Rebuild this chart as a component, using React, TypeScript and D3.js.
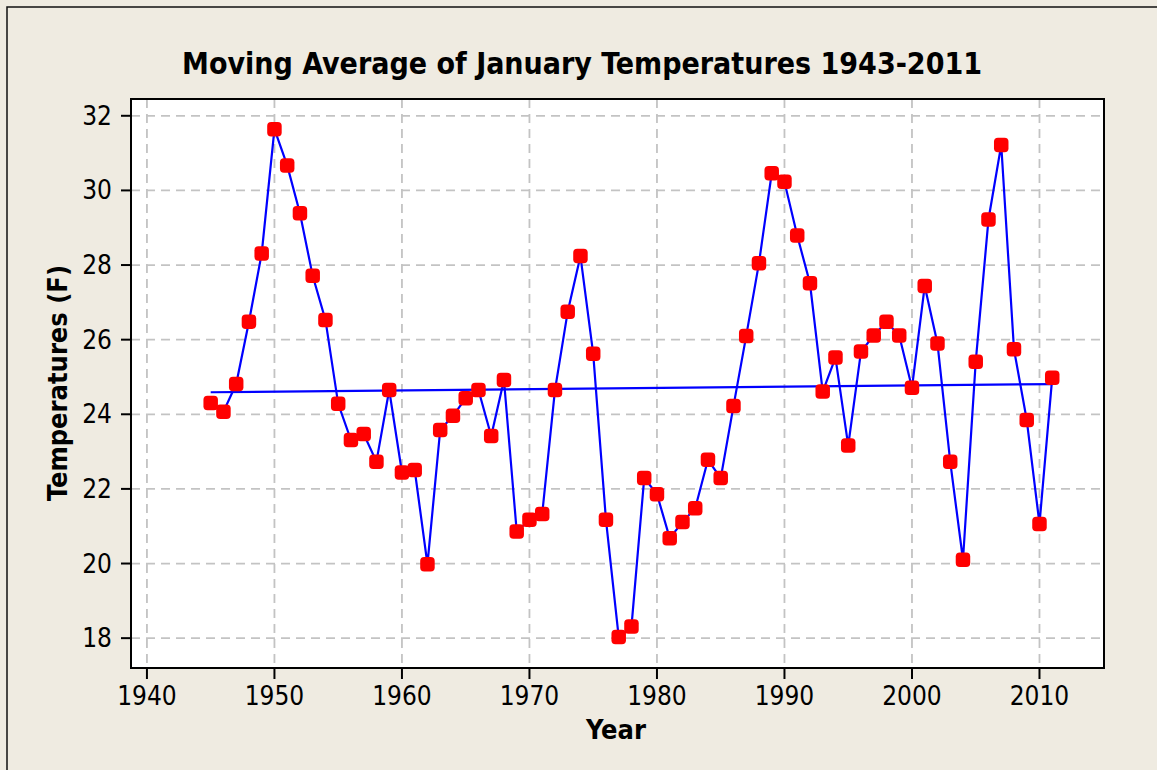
import { scaleLinear, line } from "d3";

const YEARS = [
  1945, 1946, 1947, 1948, 1949, 1950, 1951, 1952, 1953, 1954, 1955, 1956, 1957, 1958, 1959,
  1960, 1961, 1962, 1963, 1964, 1965, 1966, 1967, 1968, 1969, 1970, 1971, 1972, 1973, 1974,
  1975, 1976, 1977, 1978, 1979, 1980, 1981, 1982, 1983, 1984, 1985, 1986, 1987, 1988, 1989,
  1990, 1991, 1992, 1993, 1994, 1995, 1996, 1997, 1998, 1999, 2000, 2001, 2002, 2003, 2004,
  2005, 2006, 2007, 2008, 2009, 2010, 2011,
];

const TEMPS = [
  24.3, 24.07, 24.81, 26.48, 28.31, 31.64, 30.67, 29.39, 27.71, 26.53, 24.28, 23.31, 23.47, 22.73, 24.65,
  22.44, 22.51, 19.98, 23.58, 23.96, 24.43, 24.65, 23.42, 24.92, 20.86, 21.17, 21.33, 24.65, 26.75, 28.24,
  25.62, 21.17, 18.03, 18.31, 22.29, 21.86, 20.68, 21.11, 21.48, 22.78, 22.29, 24.22, 26.1, 28.05, 30.46,
  30.23, 28.79, 27.51, 24.61, 25.52, 23.16, 25.68, 26.11, 26.48, 26.11, 24.71, 27.44, 25.9, 22.73, 20.1,
  25.41, 29.22, 31.22, 25.74, 23.85, 21.06, 24.98,
];

// fitted trend, first and last year
const TREND_YEARS = [1945, 2011];
const TREND_VALUES = [24.59, 24.81];

const X_TICKS = [1940, 1950, 1960, 1970, 1980, 1990, 2000, 2010];
const Y_TICKS = [18, 20, 22, 24, 26, 28, 30, 32];

const TITLE = "Moving Average of January Temperatures 1943-2011";
const FONT = "'DejaVu Sans Condensed', 'Liberation Sans', sans-serif";

export default function App() {
  const width = 1157;
  const height = 770;
  const left = 131;
  const right = 1104;
  const top = 99;
  const bottom = 668;

  const x = scaleLinear().domain([1938.75, 2015.06]).range([left, right]);
  const y = scaleLinear().domain([17.2, 32.45]).range([bottom, top]);

  const points = YEARS.map((yr, i) => ({ yr, v: TEMPS[i] }));
  const path = line<{ yr: number; v: number }>()
    .x((d) => x(d.yr))
    .y((d) => y(d.v))(points);
  const trend = line<number>()
    .x((d, i) => x(TREND_YEARS[i]))
    .y((d) => y(d))(TREND_VALUES);

  const m = 14.5;

  return (
    <svg
      width={width}
      height={height}
      style={{ position: "absolute", left: 0, top: 0, fontFamily: FONT }}
    >
      <rect x={0} y={0} width={width} height={height} fill="#efebe1" />
      <rect x={7} y={7} width={width + 10} height={height + 10} fill="#efebe1" stroke="#111" strokeWidth={1.5} />

      <text x={582} y={74} textAnchor="middle" fontSize={30} fontWeight="bold" fill="#000">
        {TITLE}
      </text>

      <rect x={left} y={top} width={right - left} height={bottom - top} fill="#fff" />

      {X_TICKS.map((t) => (
        <line key={`gx${t}`} x1={x(t)} x2={x(t)} y1={top} y2={bottom} stroke="#c3c3c3" strokeWidth={1.8} strokeDasharray="9,6" />
      ))}
      {Y_TICKS.map((t) => (
        <line key={`gy${t}`} x1={left} x2={right} y1={y(t)} y2={y(t)} stroke="#c3c3c3" strokeWidth={1.8} strokeDasharray="9,6" />
      ))}

      <path d={trend || ""} fill="none" stroke="#0000ff" strokeWidth={2.2} />
      <path d={path || ""} fill="none" stroke="#0000ff" strokeWidth={2.2} />

      {points.map((d) => (
        <rect
          key={d.yr}
          x={x(d.yr) - m / 2}
          y={y(d.v) - m / 2}
          width={m}
          height={m}
          rx={4}
          fill="#ff0000"
        />
      ))}

      <rect x={left} y={top} width={right - left} height={bottom - top} fill="none" stroke="#000" strokeWidth={2} />

      {X_TICKS.map((t) => (
        <g key={`xt${t}`}>
          <line x1={x(t)} x2={x(t)} y1={bottom} y2={bottom + 11} stroke="#000" strokeWidth={2} />
          <text x={x(t)} y={705} textAnchor="middle" fontSize={26} fill="#000">
            {t}
          </text>
        </g>
      ))}
      {Y_TICKS.map((t) => (
        <g key={`yt${t}`}>
          <line x1={left - 10} x2={left} y1={y(t)} y2={y(t)} stroke="#000" strokeWidth={2} />
          <text x={112} y={y(t) + 9} textAnchor="end" fontSize={26} fill="#000">
            {t}
          </text>
        </g>
      ))}

      <text x={616} y={739} textAnchor="middle" fontSize={27} fontWeight="bold" fill="#000">
        Year
      </text>
      <text
        transform={`translate(67, 383) rotate(-90)`}
        textAnchor="middle"
        fontSize={27}
        fontWeight="bold"
        fill="#000"
      >
        Temperatures (F)
      </text>
    </svg>
  );
}
